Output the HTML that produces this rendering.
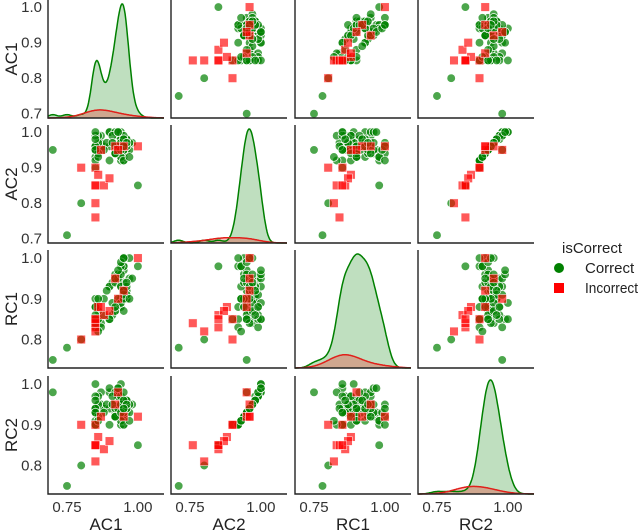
<!DOCTYPE html>
<html><head><meta charset="utf-8">
<style>
body{margin:0;background:#fff;}
svg{display:block;font-family:"Liberation Sans",sans-serif;}
</style></head>
<body>
<svg id="chart" width="640" height="531" viewBox="0 0 640 531" xmlns="http://www.w3.org/2000/svg">
  <g id="panels"></g>
  <g id="legend">
    <text x="562" y="253" font-size="15" fill="#222">isCorrect</text>
    <g>
      <circle cx="559" cy="268" r="5" fill="#008000"/>
      <text x="585" y="273" font-size="15" fill="#222">Correct</text>
    </g>
    <g>
      <rect x="554" y="283" width="10" height="10" fill="#ff0000"/>
      <text x="585" y="293" font-size="15" fill="#222" textLength="53" lengthAdjust="spacingAndGlyphs">Incorrect</text>
    </g>
  </g>
</svg>
<script>
const varNames = ["AC1","AC2","RC1","RC2"];
const correctAC1 = [0.95,0.93,0.92,0.9,0.85,0.87,0.95,0.96,0.94,0.92,0.9,0.88,0.95,0.97,0.93,0.91,0.85,0.95,0.96,0.94,0.92,0.93,0.95,0.9,0.87,0.85,0.95,0.96,0.98,0.94,0.92,0.95,0.93,0.91,0.89,0.95,0.96,0.94,0.85,0.9,0.93,0.95,0.97,0.92,0.86,0.95,0.94,0.96,0.93,0.91,0.7,0.8,0.75,0.85,0.95,1.0,0.88,0.92,0.95,0.94,0.85,0.85,0.86,0.85,0.85,0.86,0.85,0.85,0.86,0.85,0.94,0.95,0.96,0.93,0.92,0.95,0.94,0.96,0.97,0.95];
const correctAC2 = [0.93,0.99,0.95,1.0,0.96,0.97,0.92,0.95,0.98,0.94,1.0,0.96,0.93,0.95,0.99,0.97,0.96,0.94,0.98,0.92,1.0,0.95,0.97,0.96,0.99,0.93,0.95,0.98,0.97,1.0,0.94,0.96,0.95,0.99,0.97,0.93,0.96,0.98,0.95,0.92,1.0,0.94,0.97,0.96,0.99,0.95,0.93,0.98,0.96,0.97,0.95,0.8,0.71,0.9,0.92,0.85,0.95,0.94,0.96,0.97,0.95,0.92,0.97,0.99,1.0,0.94,0.96,0.98,0.93,0.95,0.97,0.99,0.96,1.0,0.94,0.98,0.95,0.97,0.93,0.96];
const correctRC1 = [0.9,0.95,0.87,0.93,0.88,0.84,0.98,0.92,0.9,0.96,0.85,0.9,0.93,0.95,0.88,0.94,0.85,1.0,0.92,0.88,0.95,0.9,0.87,0.93,0.83,0.9,0.97,0.9,0.95,0.89,0.94,0.92,0.96,0.86,0.92,0.98,0.9,0.93,0.88,0.85,0.96,0.9,1.0,0.87,0.85,0.94,0.98,0.91,0.95,0.89,0.75,0.8,0.78,0.85,1.0,0.98,0.86,0.95,0.9,0.93,0.85,0.83,0.87,0.88,0.85,0.9,0.84,0.86,0.82,0.85,0.96,0.91,0.93,0.97,0.88,0.92,0.99,0.94,0.9,1.0];
const correctRC2 = [0.91,0.97,0.93,0.98,0.94,0.95,0.9,0.93,0.96,0.92,0.99,0.94,0.91,0.93,0.97,0.95,0.94,0.92,0.96,0.9,0.98,0.93,0.95,0.94,0.98,0.91,0.93,0.96,0.95,1.0,0.92,0.94,0.93,0.97,0.95,0.91,0.94,0.97,0.93,0.9,0.99,0.92,0.95,0.94,0.97,0.93,0.91,0.96,0.94,0.95,0.98,0.8,0.75,0.9,0.9,0.85,0.93,0.92,0.94,0.95,0.93,0.9,0.95,0.97,1.0,0.92,0.94,0.96,0.91,0.93,0.95,0.98,0.94,0.99,0.92,0.96,0.93,0.95,0.91,0.94];
const incorrectAC1 = [0.85,0.86,0.85,0.88,0.9,0.85,0.85,0.87,0.95,0.92,0.8,0.85,1.0,0.93];
const incorrectAC2 = [0.9,0.88,0.85,0.85,0.87,0.8,0.76,0.95,0.96,0.96,0.9,0.85,0.96,0.95];
const incorrectRC1 = [0.85,0.88,0.83,0.86,0.87,0.82,0.84,0.88,0.92,0.95,0.8,0.85,1.0,0.9];
const incorrectRC2 = [0.9,0.87,0.85,0.84,0.86,0.81,0.85,0.92,0.92,0.95,0.9,0.85,0.92,0.98];
const xTicks = [0.75,1.00];
const yTicksTop = [0.7,0.8,0.9,1.0];
const yTicksBottom = [0.8,0.9,1.0];

const correct = [correctAC1,correctAC2,correctRC1,correctRC2];
const incorrect = [incorrectAC1,incorrectAC2,incorrectRC1,incorrectRC2];
const colX = [48,171,295,418], rowY = [0,125,250,376];
const W = 116, H = 118;
const xDom = [0.683,1.092];
const yDoms = [[0.688,1.02],[0.688,1.02],[0.73,1.02],[0.73,1.02]];
const bws = [0.016,0.016,0.02,0.022];
const NS = "http://www.w3.org/2000/svg";
const root = document.getElementById("panels");
function mk(tag, attrs, parent){const e=document.createElementNS(NS,tag);for(const k in attrs)e.setAttribute(k,attrs[k]);parent.appendChild(e);return e;}
function xs(c,v){return colX[c]+(v-xDom[0])/(xDom[1]-xDom[0])*W;}
function ys(r,v){const d=yDoms[r];return rowY[r]+H-(v-d[0])/(d[1]-d[0])*H;}
function kde(arr,x,bw){let s=0;for(const v of arr){const z=(x-v)/bw;s+=Math.exp(-0.5*z*z);}return s/(arr.length*bw*Math.sqrt(2*Math.PI));}

for(let r=0;r<4;r++){
  for(let c=0;c<4;c++){
    const g = mk("g",{},root);
    
    
    const x0=colX[c], y0=rowY[r];
    if(r===c){
      const N = correct[c].length+incorrect[c].length;
      const bw=bws[c], steps=140;
      const pts=[];
      let maxD=0;
      for(let i=0;i<=steps;i++){
        const v = xDom[0]+(xDom[1]-xDom[0])*i/steps;
        const dc = kde(correct[c],v,bw)*correct[c].length/N;
        const di = kde(incorrect[c],v,0.045)*incorrect[c].length/N*0.7;
        pts.push([v,dc,di]); maxD=Math.max(maxD,dc,di);
      }
      const base=y0+H, top=y0+4;
      const py=d=>base-(d/maxD)*(base-top);
      const mkPath=(idx)=>{let p="M"+xs(c,pts[0][0])+","+base;for(const q of pts)p+=" L"+xs(c,q[0]).toFixed(1)+","+py(q[idx]).toFixed(1);p+=" L"+xs(c,pts[pts.length-1][0])+","+base+" Z";return p;};
      const lineP=(idx)=>{let p="";pts.forEach((q,i)=>{p+=(i?" L":"M")+xs(c,q[0]).toFixed(1)+","+py(q[idx]).toFixed(1);});return p;};
      const fc = mk("path",{d:mkPath(1),fill:"#008000","fill-opacity":"0.25",stroke:"none"},g);
      
      
      const fi = mk("path",{d:mkPath(2),fill:"#ff0000","fill-opacity":"0.25",stroke:"none"},g);
      
      
      const lc = mk("path",{d:lineP(1),fill:"none",stroke:"#008000","stroke-width":"1.5"},g);
      
      
      const li = mk("path",{d:lineP(2),fill:"none",stroke:"#e0201a","stroke-width":"1.5"},g);
      
      
    } else {
      correct[c].forEach((v,i)=>{
        const p = mk("circle",{cx:xs(c,v).toFixed(1),cy:ys(r,correct[r][i]).toFixed(1),r:4.3,fill:"#008000","fill-opacity":"0.7",stroke:"#fff","stroke-width":"0.7"},g);
        
        
      });
      incorrect[c].forEach((v,i)=>{
        const px=xs(c,v), py=ys(r,incorrect[r][i]);
        const p = mk("rect",{x:(px-4.3).toFixed(1),y:(py-4.3).toFixed(1),width:8.6,height:8.6,fill:"#ff0000","fill-opacity":"0.65",stroke:"#fff","stroke-width":"0.5"},g);
        
        
      });
    }
    const ax = mk("path",{d:`M${x0},${y0} L${x0},${y0+H} L${x0+W},${y0+H}`,fill:"none",stroke:"#222","stroke-width":"1.4"},g);
    
    
  }
}
for(let r=0;r<4;r++){
  const ticks = r<2?yTicksTop:yTicksBottom;
  ticks.forEach(t=>{
    const tx = mk("text",{x:42,y:(ys(r,t)+5).toFixed(1),"font-size":"15","text-anchor":"end",fill:"#333"},root);
    tx.textContent = t.toFixed(1);
    
    
  });
  const cy = rowY[r]+H/2;
  const lab = mk("text",{x:0,y:0,"font-size":"17","text-anchor":"middle",fill:"#222",transform:`translate(17,${cy}) rotate(-90)`},root);
  lab.textContent = varNames[r];
  
  
}
for(let c=0;c<4;c++){
  xTicks.forEach(t=>{
    const tx = mk("text",{x:xs(c,t).toFixed(1),y:512,"font-size":"15","text-anchor":"middle",fill:"#333"},root);
    tx.textContent = t.toFixed(2);
    
    
  });
  const lab = mk("text",{x:colX[c]+W/2,y:530,"font-size":"17","text-anchor":"middle",fill:"#222"},root);
  lab.textContent = varNames[c];
  
  
}
</script>
</body></html>
